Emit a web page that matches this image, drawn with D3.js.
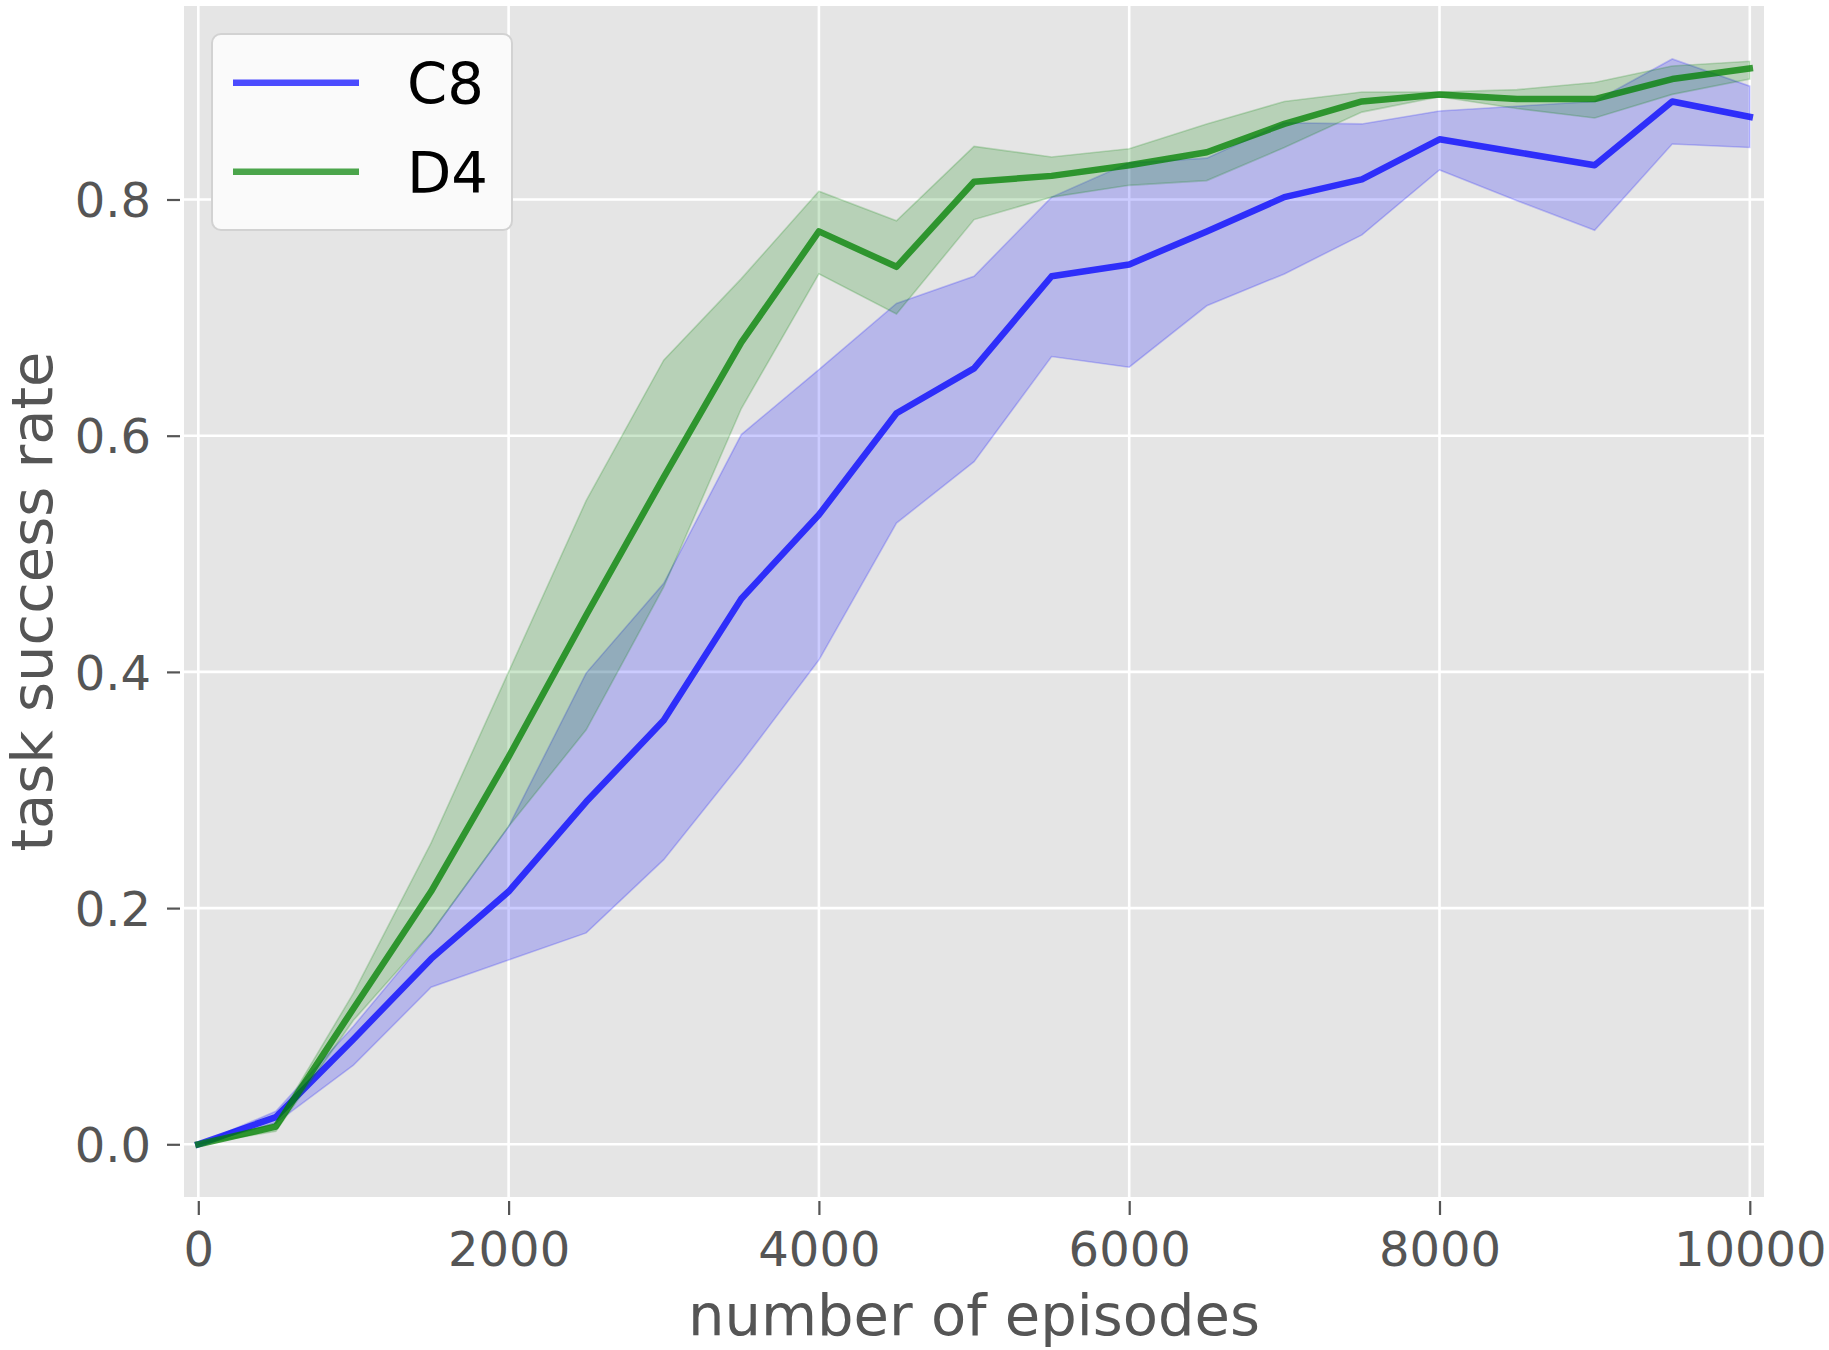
<!DOCTYPE html>
<html>
<head>
<meta charset="utf-8">
<script src="https://cdn.jsdelivr.net/npm/d3@7"></script>
<style>
  html, body { margin: 0; padding: 0; background: #ffffff; }
  svg { display: block; }
  text { font-family: "DejaVu Sans", sans-serif; }
</style>
</head>
<body>
<svg id="chart" width="1829" height="1350"></svg>
<script>
// ---------- data ----------
const episodes = [0, 500, 1000, 1500, 2000, 2500, 3000, 3500, 4000, 4500, 5000,
                  5500, 6000, 6500, 7000, 7500, 8000, 8500, 9000, 9500, 10000];

const c8Mean  = [0, 0.023, 0.089, 0.157, 0.214, 0.290, 0.359, 0.462, 0.533, 0.619, 0.657,
                 0.735, 0.745, 0.773, 0.802, 0.817, 0.851, 0.840, 0.829, 0.883, 0.870];
const c8Upper = [0, 0.028, 0.100, 0.179, 0.269, 0.399, 0.475, 0.601, 0.656, 0.712, 0.735,
                 0.802, 0.831, 0.835, 0.865, 0.864, 0.875, 0.879, 0.883, 0.919, 0.896];
const c8Lower = [0, 0.018, 0.067, 0.133, 0.156, 0.179, 0.241, 0.323, 0.410, 0.526, 0.578,
                 0.667, 0.658, 0.710, 0.737, 0.770, 0.825, 0.799, 0.774, 0.847, 0.844];

const d4Mean  = [0, 0.015, 0.115, 0.214, 0.328, 0.448, 0.565, 0.679, 0.773, 0.743, 0.815,
                 0.820, 0.829, 0.840, 0.864, 0.883, 0.889, 0.885, 0.885, 0.902, 0.911];
const d4Upper = [0, 0.018, 0.128, 0.255, 0.400, 0.545, 0.664, 0.733, 0.807, 0.782, 0.845,
                 0.836, 0.843, 0.864, 0.883, 0.891, 0.891, 0.893, 0.899, 0.913, 0.917];
const d4Lower = [0, 0.011, 0.105, 0.179, 0.269, 0.351, 0.472, 0.623, 0.737, 0.703, 0.783,
                 0.802, 0.812, 0.816, 0.844, 0.874, 0.887, 0.877, 0.869, 0.889, 0.902];

const seriesNames = ["C8", "D4"];
const xTicks = [0, 2000, 4000, 6000, 8000, 10000];
const yTicks = [0.0, 0.2, 0.4, 0.6, 0.8];
const xLabel = "number of episodes";
const yLabel = "task success rate";

// ---------- layout ----------
const plot = { left: 184, right: 1764, top: 6, bottom: 1197 };
const colors = { C8: "#0000ff", D4: "#008000" };

const x = d3.scaleLinear().domain([0, 10000]).range([198.3, 1749.8]);
const y = d3.scaleLinear().domain([0, 0.8]).range([1144.3, 199.5]);

const svg = d3.select("#chart");

// axes background
svg.append("rect")
  .attr("x", plot.left).attr("y", plot.top)
  .attr("width", plot.right - plot.left).attr("height", plot.bottom - plot.top)
  .attr("fill", "#e5e5e5");

// grid
const grid = svg.append("g");
grid.selectAll("line.h").data(yTicks).join("line")
  .attr("x1", plot.left).attr("x2", plot.right)
  .attr("y1", d => y(d)).attr("y2", d => y(d))
  .attr("stroke", "#ffffff").attr("stroke-width", 2.6);
grid.selectAll("line.v").data(xTicks).join("line")
  .attr("y1", plot.top).attr("y2", plot.bottom)
  .attr("x1", d => x(d)).attr("x2", d => x(d))
  .attr("stroke", "#ffffff").attr("stroke-width", 2.6);

// axes
const xAxis = d3.axisBottom(x).tickValues(xTicks).tickSize(14).tickPadding(17)
  .tickFormat(d3.format("d"));
const gx = svg.append("g").attr("transform", `translate(0,1201)`).call(xAxis);
gx.select(".domain").remove();
gx.selectAll(".tick line").attr("stroke", "#555555").attr("stroke-width", 2.2);
gx.selectAll(".tick text").attr("fill", "#555555").attr("font-size", 48)
  .attr("font-family", "DejaVu Sans");

const yAxis = d3.axisLeft(y).tickValues(yTicks).tickSize(13).tickPadding(16)
  .tickFormat(d3.format(".1f"));
const gy = svg.append("g").attr("transform", `translate(180,0)`).call(yAxis);
gy.select(".domain").remove();
gy.selectAll(".tick line").attr("stroke", "#555555").attr("stroke-width", 2.2);
gy.selectAll(".tick text").attr("fill", "#555555").attr("font-size", 48)
  .attr("font-family", "DejaVu Sans").attr("dy", "0.36em");

// series
const rows = (mean, lo, hi) => episodes.map((e, i) => ({ x: e, m: mean[i], lo: lo[i], hi: hi[i] }));
const series = [
  { name: seriesNames[0], data: rows(c8Mean, c8Lower, c8Upper), color: colors.C8 },
  { name: seriesNames[1], data: rows(d4Mean, d4Lower, d4Upper), color: colors.D4 }
];

const line = d3.line().x(d => x(d.x)).y(d => y(d.m));
const area = d3.area().x(d => x(d.x)).y0(d => y(d.lo)).y1(d => y(d.hi));

const marks = svg.append("g");
series.forEach(s => {
  marks.append("path").datum(s.data)
    .attr("d", line)
    .attr("fill", "none")
    .attr("stroke", s.color).attr("stroke-opacity", 0.75)
    .attr("stroke-width", 6.5)
    .attr("stroke-linejoin", "round").attr("stroke-linecap", "square");
  marks.append("path").datum(s.data)
    .attr("d", area)
    .attr("fill", s.color).attr("fill-opacity", 0.2)
    .attr("stroke", s.color).attr("stroke-opacity", 0.2).attr("stroke-width", 1.6);
});

// axis labels
svg.append("text")
  .attr("x", (plot.left + plot.right) / 2).attr("y", 1335)
  .attr("text-anchor", "middle").attr("fill", "#555555").attr("font-size", 57.6)
  .text(xLabel);
svg.append("text")
  .attr("transform", `translate(52,${(plot.top + plot.bottom) / 2}) rotate(-90)`)
  .attr("text-anchor", "middle").attr("fill", "#555555").attr("font-size", 57.6)
  .text(yLabel);

// legend
const lg = svg.append("g");
lg.append("rect")
  .attr("x", 212).attr("y", 34).attr("width", 300).attr("height", 196)
  .attr("rx", 9).attr("ry", 9)
  .attr("fill", "#fafafa").attr("stroke", "#d2d2d2").attr("stroke-width", 2);
const legendRows = lg.selectAll("g.row").data(series).join("g")
  .attr("transform", (d, i) => `translate(0,${i * 89})`);
legendRows.append("line")
  .attr("x1", 233).attr("x2", 359).attr("y1", 82.7).attr("y2", 82.7)
  .attr("stroke", d => d.color).attr("stroke-opacity", 0.7).attr("stroke-width", 6.5);
legendRows.append("text")
  .attr("x", 407).attr("y", 103.5)
  .attr("fill", "#000000").attr("font-size", 57.6)
  .text(d => d.name);
</script>
</body>
</html>
